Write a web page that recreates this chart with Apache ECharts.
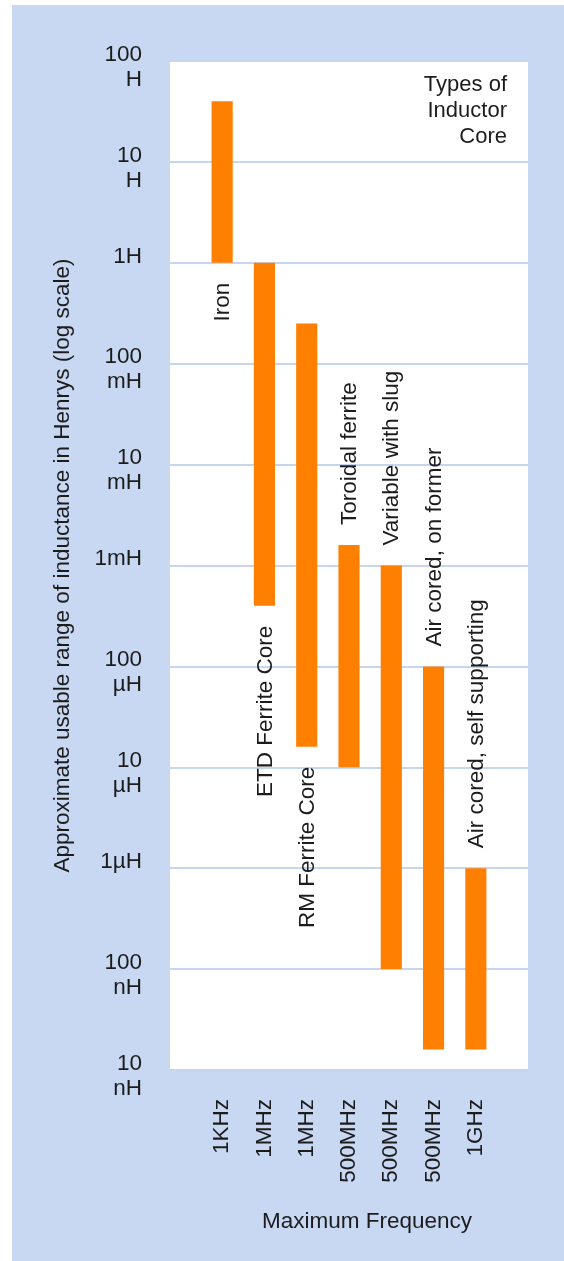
<!DOCTYPE html>
<html><head><meta charset="utf-8">
<script src="https://cdn.jsdelivr.net/npm/echarts@6/dist/echarts.min.js"></script>
<style>html,body{margin:0;padding:0;background:#fff;}#c{position:absolute;left:12px;top:5px;width:552px;height:1256px;}</style>
</head><body><div id="c"></div>
<script>
// ---- data ----
const cores = ['Iron', 'ETD Ferrite Core', 'RM Ferrite Core', 'Toroidal ferrite',
  'Variable with slug', 'Air cored, on former', 'Air cored, self supporting'];
const maxFreq = ['1KHz', '1MHz', '1MHz', '500MHz', '500MHz', '500MHz', '1GHz'];
const lowH  = [1, 4e-4, 1.6e-5, 1e-5, 1e-7, 1.6e-8, 1.6e-8];
const highH = [40, 1, 0.25, 1.6e-3, 1e-3, 1e-4, 1e-6];
const tickLabels = ['10\nnH', '100\nnH', '1µH', '10\nµH', '100\nµH', '1mH',
  '10\nmH', '100\nmH', '1H', '10\nH', '100\nH'];
const yTitle = 'Approximate usable range of inductance in Henrys (log scale)';
const xTitle = 'Maximum Frequency';
const legendTitle = 'Types of\nInductor\nCore';

// ---- chart ----
const FONT = "'Liberation Sans', Arial, sans-serif";
const TXT = '#1c1c1c';
const FS = 22.5;
const chart = echarts.init(document.getElementById('c'), null, {renderer: 'canvas'});
const Y_MIN = 1e-8, Y_MAX = 100;

chart.setOption({
  backgroundColor: '#c8d8f3',
  animation: false,
  grid: [
    {left: 158, top: 56, width: 358, height: 1009, show: true, backgroundColor: '#ffffff', borderWidth: 0},
    {left: 189, top: 56, width: 296, height: 1009, show: false}
  ],
  xAxis: [
    {gridIndex: 0, type: 'value', min: 0, max: 1, show: false},
    {gridIndex: 1, type: 'category', data: maxFreq,
      axisLine: {show: false}, axisTick: {show: false},
      axisLabel: {rotate: 90, margin: 29, fontSize: FS, fontFamily: FONT, color: TXT}}
  ],
  yAxis: [
    {gridIndex: 0, type: 'log', logBase: 10, min: Y_MIN, max: Y_MAX, interval: 1, splitNumber: 10,
      axisLine: {show: false}, axisTick: {show: false},
      splitLine: {show: true, lineStyle: {color: '#c5d5f2', width: 2}},
      axisLabel: {
        margin: 28, fontSize: FS, fontFamily: FONT, color: TXT,
        verticalAlign: 'middle', align: 'right',
        rich: {
          a: {fontSize: FS, fontFamily: FONT, color: TXT, lineHeight: 37, align: 'right'},
          b: {fontSize: FS, fontFamily: FONT, color: TXT, lineHeight: 13, align: 'right'}
        },
        formatter: function (v) {
          const idx = Math.round(Math.log10(v)) + 8;
          const parts = (tickLabels[idx] || '').split('\n');
          return '{a|' + parts[0] + '}\n{b|' + (parts[1] || ' ') + '}';
        }
      },
      name: yTitle, nameLocation: 'middle', nameGap: 96,
      nameTextStyle: {fontSize: FS, fontFamily: FONT, color: TXT}
    },
    {gridIndex: 1, type: 'log', logBase: 10, min: Y_MIN, max: Y_MAX, show: false,
      splitLine: {show: false}}
  ],
  graphic: [
    {type: 'text', x: 495, y: 67, z: 100,
      style: {text: legendTitle, align: 'right', verticalAlign: 'top', fontSize: 22,
        lineHeight: 26, fontFamily: FONT, fill: TXT}},
    {type: 'text', x: 355, y: 1217, z: 100,
      style: {text: xTitle, align: 'center', verticalAlign: 'middle', fontSize: FS,
        fontFamily: FONT, fill: TXT}}
  ],
  series: [{
    type: 'custom',
    xAxisIndex: 1, yAxisIndex: 1,
    encode: {x: 0, y: [1, 2]},
    data: cores.map((c, i) => [i, lowH[i], highH[i]]),
    renderItem: function (params, api) {
      const i = api.value(0);
      const lo = api.coord([i, api.value(1)]);
      const hi = api.coord([i, api.value(2)]);
      const band = api.coord([1, api.value(1)])[0] - api.coord([0, api.value(1)])[0];
      const w = band * 0.5;
      const cx = lo[0];
      const below = i < 3;
      return {
        type: 'group',
        children: [
          {type: 'rect', shape: {x: cx - w / 2, y: hi[1], width: w, height: lo[1] - hi[1]},
            style: {fill: '#ff8000'}},
          {type: 'text', x: cx + 1, y: below ? lo[1] + 20 : hi[1] - 20, rotation: Math.PI / 2,
            style: {text: cores[i], align: below ? 'right' : 'left', verticalAlign: 'middle',
              fontSize: FS, fontFamily: FONT, fill: TXT}}
        ]
      };
    }
  }]
});
</script></body></html>
